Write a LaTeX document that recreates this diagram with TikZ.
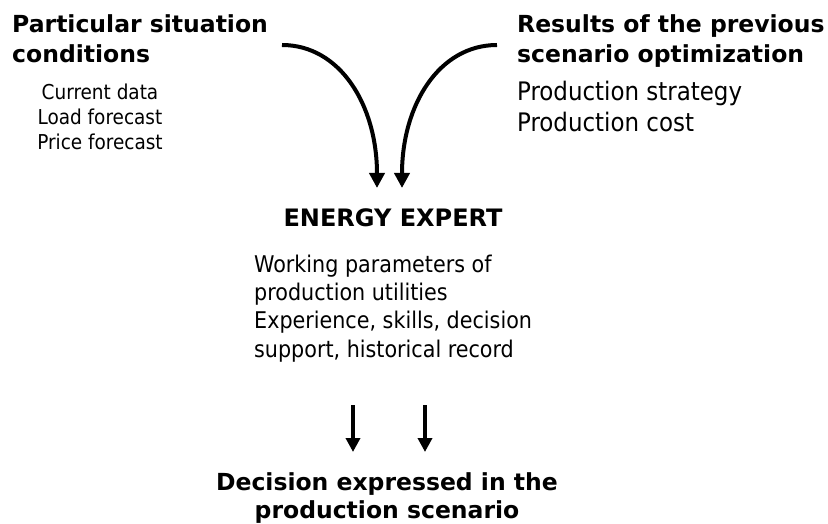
\documentclass[tikz,border=0pt]{standalone}
\usepackage{fontspec}
\setmainfont{DejaVuSansCondensed}[Extension=.ttf, BoldFont=DejaVuSansCondensed-Bold]
\newfontfamily\headfont{DejaVuSans-Bold}[Extension=.ttf]
\usetikzlibrary{arrows.meta}
\begin{document}
\begin{tikzpicture}[x=1pt,y=-1pt,
  headtxt/.style={font=\fontsize{23.5}{28}\selectfont\headfont, inner sep=0pt, anchor=base west},
  bigtxt/.style={font=\fontsize{23}{28}\selectfont, inner sep=0pt, anchor=base west},
  prodtxt/.style={font=\fontsize{25.5}{30}\selectfont, inner sep=0pt, anchor=base west},
  smalltxt/.style={font=\fontsize{20.5}{25}\selectfont, inner sep=0pt, anchor=base},
  ctrhead/.style={font=\fontsize{23.5}{28}\selectfont\headfont, inner sep=0pt, anchor=base},
  curvarr/.style={line width=4pt, -{Triangle[width=15pt,length=15pt]}},
  straightarr/.style={line width=3.5pt, -{Triangle[width=14pt,length=14pt]}}]
\useasboundingbox (0,0) rectangle (828,524);
% left heading
\node[headtxt] (psa) at (12,33) {Particular situation};
\node[headtxt] (psb) at (12,63) {conditions};
\node[smalltxt] (cd) at (100,100) {Current data};
\node[smalltxt] (lf) at (100,125) {Load forecast};
\node[smalltxt] (pf) at (100,150) {Price forecast};
% right heading
\node[headtxt] (rpa) at (517,33) {Results of the previous};
\node[headtxt] (rpb) at (517,63) {scenario optimization};
\node[prodtxt] (ps) at (517,101) {Production strategy};
\node[prodtxt] (pc) at (517,132) {Production cost};
% energy expert
\node[ctrhead, font=\fontsize{24}{28}\selectfont\headfont] (ee) at (393,226) {ENERGY EXPERT};
\node[bigtxt] (wa) at (254,272) {Working parameters of};
\node[bigtxt] (wb) at (254,300) {production utilities};
\node[bigtxt] (wc) at (254,328) {Experience, skills, decision};
\node[bigtxt] (wd) at (254,357) {support, historical record};
% decision
\node[ctrhead] (da) at (387,490) {Decision expressed in the};
\node[ctrhead] (db) at (387,518) {production scenario};
% curved arrows
\coordinate (s1) at (282,45);
\coordinate (t1) at (377,188);
\coordinate (s2) at (497,45);
\coordinate (t2) at (402,188);
\draw[curvarr] (s1) .. controls (340,45) and (377,105) .. (t1);
\draw[curvarr] (s2) .. controls (439,45) and (402,105) .. (t2);
% straight arrows
\coordinate (u1) at (353,405);
\coordinate (v1) at (353,452);
\coordinate (u2) at (425,405);
\coordinate (v2) at (425,452);
\draw[straightarr] (u1) -- (v1);
\draw[straightarr] (u2) -- (v2);
\end{tikzpicture}
\end{document}
